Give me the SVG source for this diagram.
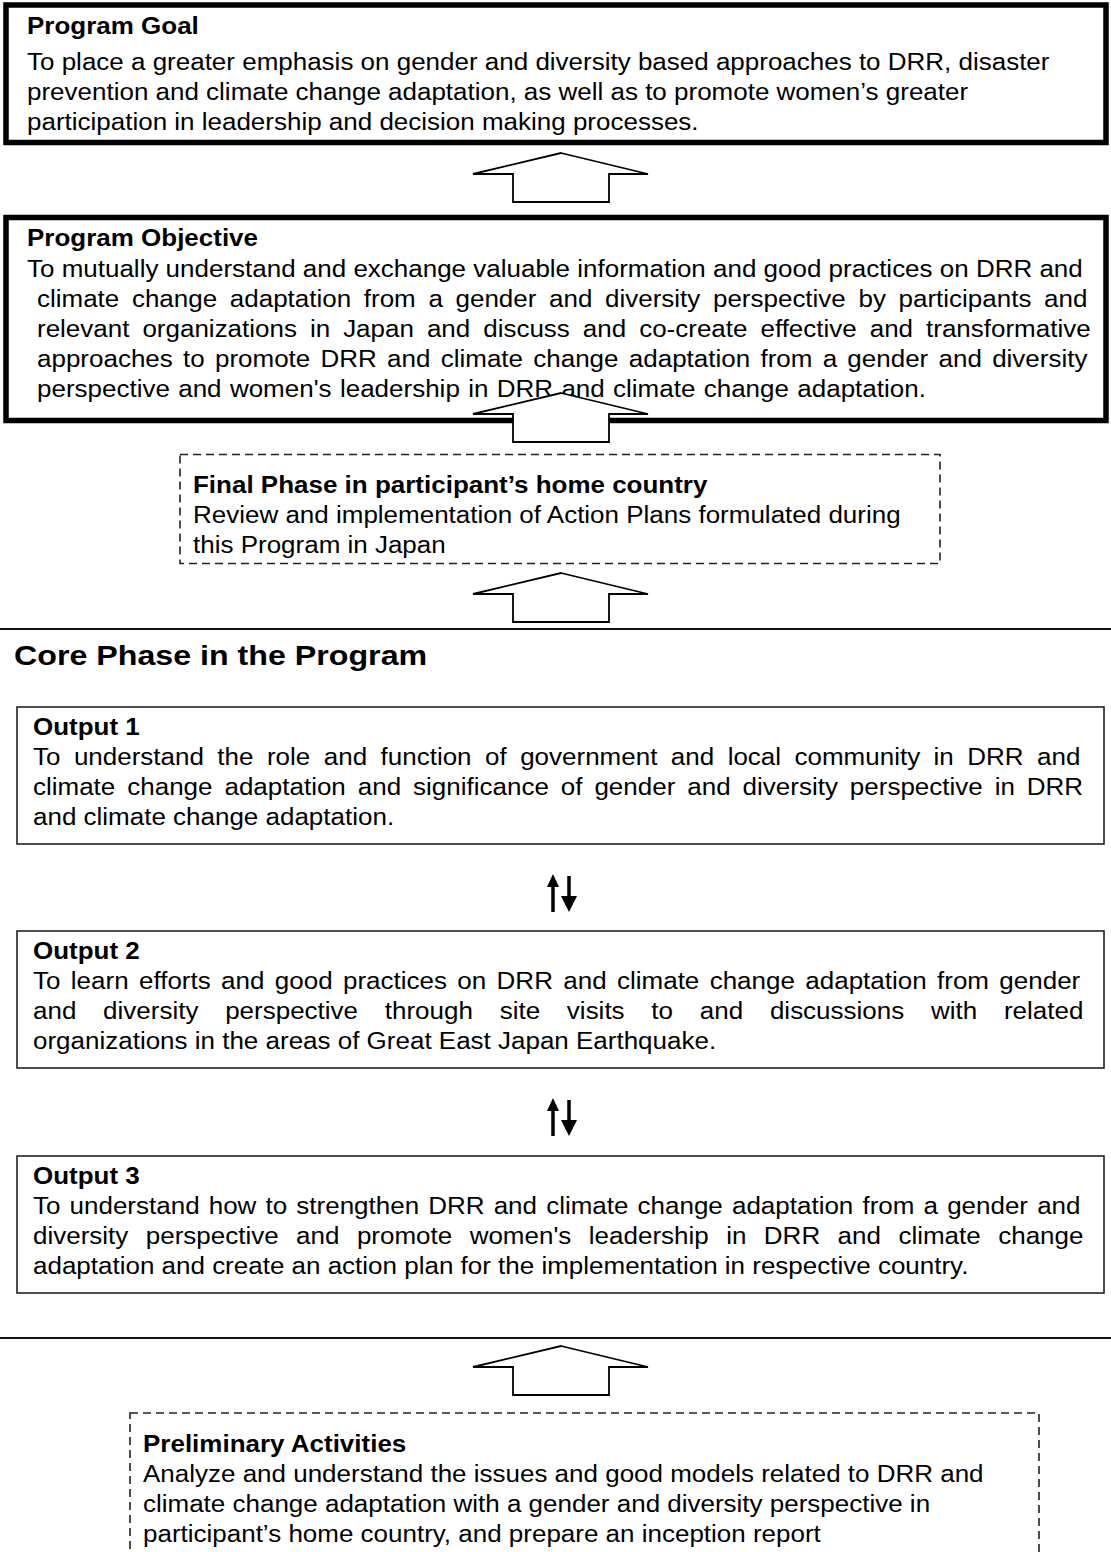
<svg xmlns="http://www.w3.org/2000/svg" width="1111" height="1552" viewBox="0 0 1111 1552">
<style>
text{font-family:"Liberation Sans",Arial,sans-serif;font-size:23px;fill:#000}
.b{font-weight:bold}
.h{font-weight:bold;font-size:28.5px}
.thick{fill:#fff;stroke:#000;stroke-width:5.5}
.box{fill:#fff;stroke:#222;stroke-width:1.6}
.dash{fill:none;stroke:#222;stroke-width:1.6;stroke-dasharray:8 5}
.arrow{fill:#fff;stroke:#000;stroke-width:1.8;stroke-linejoin:miter}
.rule{stroke:#111;stroke-width:2}
.shaft{stroke:#000;stroke-width:3.5}
</style>
<rect width="1111" height="1552" fill="#fff"/>

<g id="goal">
<rect class="thick" x="6" y="5" width="1100" height="137.5"/>
<text class="b" transform="translate(27 34) scale(1.13 1)">Program Goal</text>
<text transform="translate(27 70) scale(1.13 1)">To place a greater emphasis on gender and diversity based approaches to DRR, disaster</text>
<text transform="translate(27 100) scale(1.13 1)">prevention and climate change adaptation, as well as to promote women’s greater</text>
<text transform="translate(27 130) scale(1.13 1)">participation in leadership and decision making processes.</text>
</g>

<g id="objective">
<rect class="thick" x="6" y="217.5" width="1100" height="203"/>
<text class="b" transform="translate(27 246) scale(1.13 1)">Program Objective</text>
<text transform="translate(27 277) scale(1.13 1)">To mutually understand and exchange valuable information and good practices on DRR and</text>
<text transform="translate(37 307) scale(1.13 1)" word-spacing="4.8">climate change adaptation from a gender and diversity perspective by participants and</text>
<text transform="translate(37 337) scale(1.13 1)" word-spacing="5.1">relevant organizations in Japan and discuss and co-create effective and transformative</text>
<text transform="translate(37 367) scale(1.13 1)" word-spacing="2.7">approaches to promote DRR and climate change adaptation from a gender and diversity</text>
<text transform="translate(37 397) scale(1.13 1)" word-spacing="1">perspective and women's leadership in DRR and climate change adaptation.</text>
</g>

<g id="final-phase">
<rect class="dash" x="180" y="454.5" width="760" height="109"/>
<text class="b" transform="translate(193 493) scale(1.13 1)">Final Phase in participant’s home country</text>
<text transform="translate(193 523) scale(1.13 1)">Review and implementation of Action Plans formulated during</text>
<text transform="translate(193 553) scale(1.13 1)">this Program in Japan</text>
</g>

<g id="core-phase">
<line class="rule" x1="0" y1="629" x2="1111" y2="629"/>
<text class="h" transform="translate(14 665) scale(1.13 1)">Core Phase in the Program</text>
<line class="rule" x1="0" y1="1338" x2="1111" y2="1338"/>
</g>

<g id="output1">
<rect class="box" x="17" y="707" width="1087" height="137"/>
<text class="b" transform="translate(33 735) scale(1.13 1)">Output 1</text>
<text transform="translate(33 765) scale(1.13 1)" word-spacing="5.53">To understand the role and function of government and local community in DRR and</text>
<text transform="translate(33 795) scale(1.13 1)" word-spacing="4.2">climate change adaptation and significance of gender and diversity perspective in DRR</text>
<text transform="translate(33 825) scale(1.13 1)">and climate change adaptation.</text>
</g>

<g id="output2">
<rect class="box" x="17" y="931" width="1087" height="137"/>
<text class="b" transform="translate(33 959) scale(1.13 1)">Output 2</text>
<text transform="translate(33 989) scale(1.13 1)" word-spacing="2.8">To learn efforts and good practices on DRR and climate change adaptation from gender</text>
<text transform="translate(33 1019) scale(1.13 1)" word-spacing="17.3">and diversity perspective through site visits to and discussions with related</text>
<text transform="translate(33 1049) scale(1.13 1)">organizations in the areas of Great East Japan Earthquake.</text>
</g>

<g id="output3">
<rect class="box" x="17" y="1156" width="1087" height="137"/>
<text class="b" transform="translate(33 1184) scale(1.13 1)">Output 3</text>
<text transform="translate(33 1214) scale(1.13 1)" word-spacing="1.7">To understand how to strengthen DRR and climate change adaptation from a gender and</text>
<text transform="translate(33 1244) scale(1.13 1)" word-spacing="9.07">diversity perspective and promote women's leadership in DRR and climate change</text>
<text transform="translate(33 1274) scale(1.13 1)">adaptation and create an action plan for the implementation in respective country.</text>
</g>

<g id="preliminary">
<rect class="dash" x="130" y="1413" width="909" height="160"/>
<text class="b" transform="translate(143 1452) scale(1.13 1)">Preliminary Activities</text>
<text transform="translate(143 1482) scale(1.13 1)">Analyze and understand the issues and good models related to DRR and</text>
<text transform="translate(143 1512) scale(1.13 1)">climate change adaptation with a gender and diversity perspective in</text>
<text transform="translate(143 1542) scale(1.13 1)">participant’s home country, and prepare an inception report</text>
</g>

<g id="connectors">
<polygon class="arrow" points="561,153 648,174 609,174 609,202 513,202 513,174 473,174"/>
<polygon class="arrow" points="561,393 648,414 609,414 609,442 513,442 513,414 473,414"/>
<polygon class="arrow" points="561,573 648,594 609,594 609,622 513,622 513,594 473,594"/>
<polygon class="arrow" points="561,1346 648,1367 609,1367 609,1395 513,1395 513,1367 473,1367"/>
<g>
<line class="shaft" x1="553" y1="912" x2="553" y2="884"/>
<polygon points="547,887 553,874 559,887"/>
<line class="shaft" x1="569" y1="876" x2="569" y2="898"/>
<polygon points="561,896 569,912 577,896"/>
</g>
<g>
<line class="shaft" x1="553" y1="1136" x2="553" y2="1108"/>
<polygon points="547,1111 553,1098 559,1111"/>
<line class="shaft" x1="569" y1="1100" x2="569" y2="1122"/>
<polygon points="561,1120 569,1136 577,1120"/>
</g>
</g>
</svg>
